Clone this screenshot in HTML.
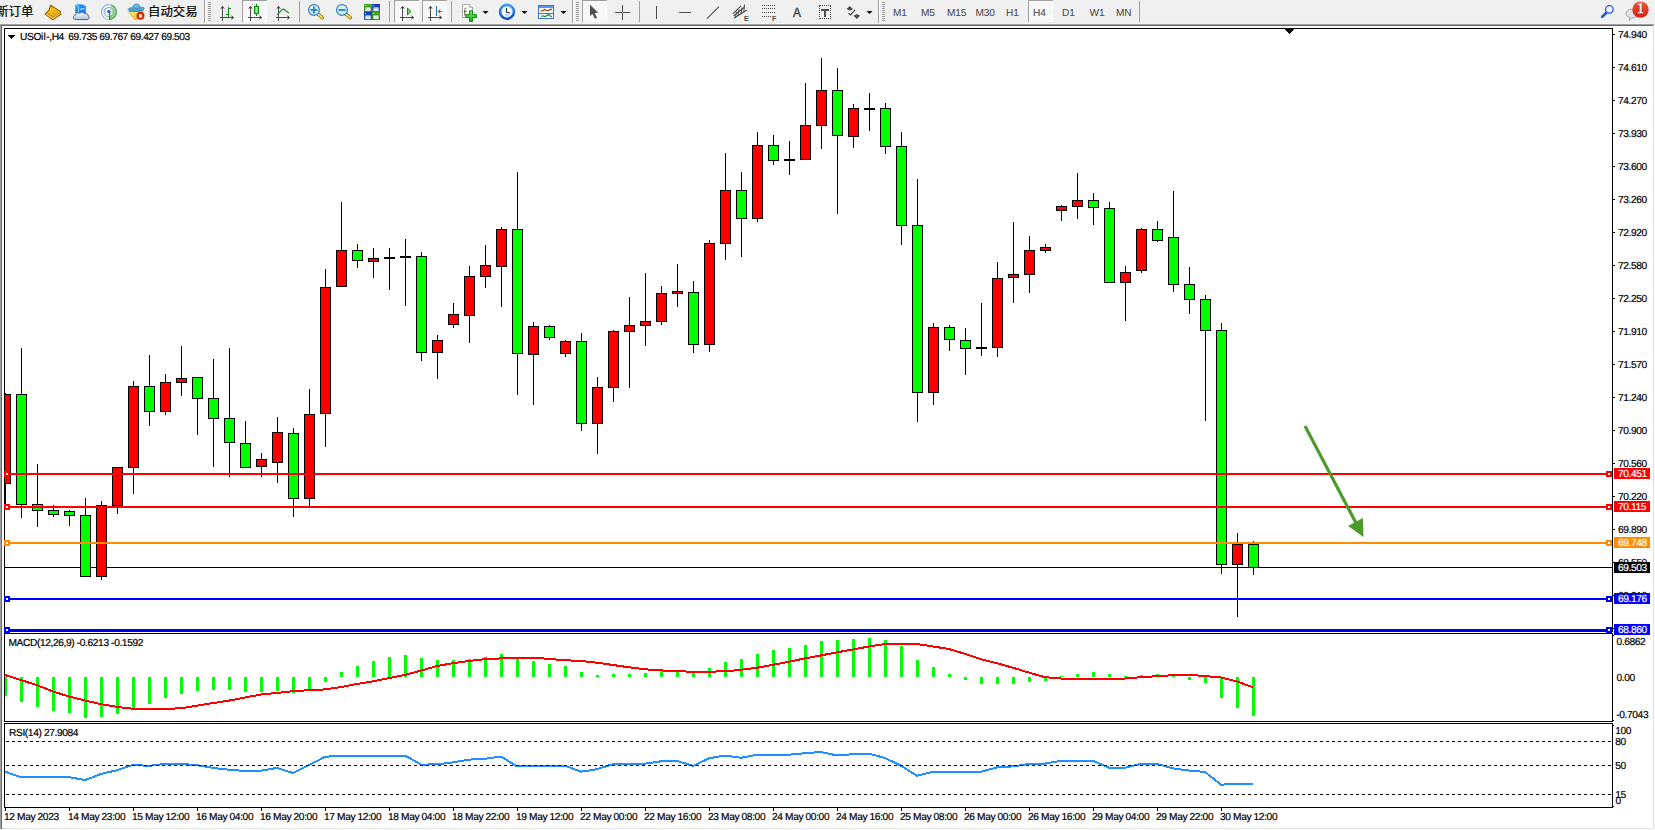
<!DOCTYPE html>
<html><head><meta charset="utf-8"><title>USOil H4</title>
<style>
html,body{margin:0;padding:0;background:#fff;}
body{width:1655px;height:830px;position:relative;overflow:hidden;font-family:"Liberation Sans","Noto Sans CJK SC",sans-serif;}
svg{position:absolute;left:0;top:0;}
.t{position:absolute;font-size:10.2px;letter-spacing:-0.38px;line-height:11px;height:11px;color:#000;white-space:nowrap;-webkit-text-stroke:0.2px currentColor;text-rendering:geometricPrecision;}
.c{position:absolute;font-size:12px;line-height:14px;color:#000;white-space:nowrap;}
.i{position:absolute;line-height:14px;color:#4d4d4d;white-space:nowrap;}
.b1{position:absolute;font-family:'Liberation Serif',serif;font-weight:normal;font-size:14px;line-height:14px;color:#fff;-webkit-text-stroke:0.3px #fff;}
.p{position:absolute;font-size:10.1px;letter-spacing:-0.1px;line-height:13px;color:#484848;-webkit-text-stroke:0.05px #484848;text-rendering:geometricPrecision;white-space:nowrap;}
</style></head><body>
<svg width="1655" height="830" viewBox="0 0 1655 830" shape-rendering="crispEdges"><defs><clipPath id="cm"><rect x="5" y="29" width="1607" height="602"/></clipPath><clipPath id="cm2"><rect x="5" y="634" width="1607" height="87"/></clipPath><clipPath id="cm3"><rect x="5" y="724" width="1607" height="83"/></clipPath></defs>
<rect x="0" y="0" width="1655" height="24" fill="#f0f0f0"/>
<rect x="0" y="24" width="1654" height="1" fill="#a0a0a0"/>
<rect x="0" y="25" width="1653" height="1" fill="#696969"/>
<rect x="0" y="24" width="1" height="805" fill="#a0a0a0"/>
<rect x="1" y="25" width="1" height="804" fill="#696969"/>
<rect x="1653" y="25" width="1" height="804" fill="#e3e3e3"/>
<rect x="1654" y="24" width="1" height="2" fill="#f0f0f0"/>
<rect x="2" y="828" width="1652" height="1" fill="#e3e3e3"/>
<rect x="0" y="829" width="1655" height="1" fill="#ffffff"/>
<rect x="4" y="28" width="1609" height="1" fill="#000"/>
<rect x="4" y="28" width="1" height="604" fill="#000"/>
<rect x="1612" y="28" width="1" height="604" fill="#000"/>
<rect x="4" y="631" width="1609" height="1" fill="#000"/>
<rect x="4" y="633" width="1609" height="1" fill="#000"/>
<rect x="4" y="633" width="1" height="89" fill="#000"/>
<rect x="1612" y="633" width="1" height="89" fill="#000"/>
<rect x="4" y="721" width="1609" height="1" fill="#000"/>
<rect x="4" y="723" width="1609" height="1" fill="#000"/>
<rect x="4" y="723" width="1" height="85" fill="#000"/>
<rect x="1612" y="723" width="1" height="85" fill="#000"/>
<rect x="4" y="807" width="1609" height="1" fill="#000"/>
<rect x="1613" y="34" width="2" height="1" fill="#000"/>
<rect x="1613" y="67" width="2" height="1" fill="#000"/>
<rect x="1613" y="100" width="2" height="1" fill="#000"/>
<rect x="1613" y="133" width="2" height="1" fill="#000"/>
<rect x="1613" y="166" width="2" height="1" fill="#000"/>
<rect x="1613" y="199" width="2" height="1" fill="#000"/>
<rect x="1613" y="232" width="2" height="1" fill="#000"/>
<rect x="1613" y="265" width="2" height="1" fill="#000"/>
<rect x="1613" y="298" width="2" height="1" fill="#000"/>
<rect x="1613" y="331" width="2" height="1" fill="#000"/>
<rect x="1613" y="364" width="2" height="1" fill="#000"/>
<rect x="1613" y="397" width="2" height="1" fill="#000"/>
<rect x="1613" y="430" width="2" height="1" fill="#000"/>
<rect x="1613" y="463" width="2" height="1" fill="#000"/>
<rect x="1613" y="496" width="2" height="1" fill="#000"/>
<rect x="1613" y="529" width="2" height="1" fill="#000"/>
<rect x="1613" y="562" width="2" height="1" fill="#000"/>
<rect x="1613" y="595" width="2" height="1" fill="#000"/>
<rect x="1613" y="628" width="2" height="1" fill="#000"/>
<rect x="1613" y="635" width="1" height="1" fill="#000"/>
<rect x="1613" y="720" width="1" height="1" fill="#000"/>
<rect x="1613" y="725" width="1" height="1" fill="#000"/>
<rect x="1613" y="806" width="1" height="1" fill="#000"/>
<rect x="5" y="808" width="1" height="3" fill="#000"/>
<rect x="69" y="808" width="1" height="3" fill="#000"/>
<rect x="133" y="808" width="1" height="3" fill="#000"/>
<rect x="197" y="808" width="1" height="3" fill="#000"/>
<rect x="261" y="808" width="1" height="3" fill="#000"/>
<rect x="325" y="808" width="1" height="3" fill="#000"/>
<rect x="389" y="808" width="1" height="3" fill="#000"/>
<rect x="453" y="808" width="1" height="3" fill="#000"/>
<rect x="517" y="808" width="1" height="3" fill="#000"/>
<rect x="581" y="808" width="1" height="3" fill="#000"/>
<rect x="645" y="808" width="1" height="3" fill="#000"/>
<rect x="709" y="808" width="1" height="3" fill="#000"/>
<rect x="773" y="808" width="1" height="3" fill="#000"/>
<rect x="837" y="808" width="1" height="3" fill="#000"/>
<rect x="901" y="808" width="1" height="3" fill="#000"/>
<rect x="965" y="808" width="1" height="3" fill="#000"/>
<rect x="1029" y="808" width="1" height="3" fill="#000"/>
<rect x="1093" y="808" width="1" height="3" fill="#000"/>
<rect x="1157" y="808" width="1" height="3" fill="#000"/>
<rect x="1221" y="808" width="1" height="3" fill="#000"/>
<rect x="8" y="35" width="7" height="1" fill="#000"/>
<rect x="9" y="36" width="5" height="1" fill="#000"/>
<rect x="10" y="37" width="3" height="1" fill="#000"/>
<rect x="11" y="38" width="1" height="1" fill="#000"/>
<rect x="1285" y="29" width="9" height="1" fill="#000"/>
<rect x="1286" y="30" width="7" height="1" fill="#000"/>
<rect x="1287" y="31" width="5" height="1" fill="#000"/>
<rect x="1288" y="32" width="3" height="1" fill="#000"/>
<rect x="1289" y="33" width="1" height="1" fill="#000"/>
<rect x="5" y="567" width="1607" height="1" fill="#000"/>
<g clip-path="url(#cm)"><rect x="5" y="393" width="1" height="114" fill="#000"/><rect x="0" y="394" width="11" height="90" fill="#000"/><rect x="1" y="395" width="9" height="88" fill="#ff0000"/><rect x="21" y="348" width="1" height="170" fill="#000"/><rect x="16" y="394" width="11" height="111" fill="#000"/><rect x="17" y="395" width="9" height="109" fill="#00ff00"/><rect x="37" y="464" width="1" height="63" fill="#000"/><rect x="32" y="504" width="11" height="7" fill="#000"/><rect x="33" y="505" width="9" height="5" fill="#00ff00"/><rect x="53" y="505" width="1" height="12" fill="#000"/><rect x="48" y="510" width="11" height="5" fill="#000"/><rect x="49" y="511" width="9" height="3" fill="#00ff00"/><rect x="69" y="510" width="1" height="16" fill="#000"/><rect x="64" y="511" width="11" height="5" fill="#000"/><rect x="65" y="512" width="9" height="3" fill="#00ff00"/><rect x="85" y="498" width="1" height="79" fill="#000"/><rect x="80" y="515" width="11" height="62" fill="#000"/><rect x="81" y="516" width="9" height="60" fill="#00ff00"/><rect x="101" y="501" width="1" height="79" fill="#000"/><rect x="96" y="505" width="11" height="72" fill="#000"/><rect x="97" y="506" width="9" height="70" fill="#ff0000"/><rect x="117" y="467" width="1" height="47" fill="#000"/><rect x="112" y="467" width="11" height="39" fill="#000"/><rect x="113" y="468" width="9" height="37" fill="#ff0000"/><rect x="133" y="381" width="1" height="113" fill="#000"/><rect x="128" y="386" width="11" height="82" fill="#000"/><rect x="129" y="387" width="9" height="80" fill="#ff0000"/><rect x="149" y="355" width="1" height="71" fill="#000"/><rect x="144" y="386" width="11" height="26" fill="#000"/><rect x="145" y="387" width="9" height="24" fill="#00ff00"/><rect x="165" y="374" width="1" height="41" fill="#000"/><rect x="160" y="382" width="11" height="30" fill="#000"/><rect x="161" y="383" width="9" height="28" fill="#ff0000"/><rect x="181" y="346" width="1" height="50" fill="#000"/><rect x="176" y="378" width="11" height="5" fill="#000"/><rect x="177" y="379" width="9" height="3" fill="#ff0000"/><rect x="197" y="377" width="1" height="58" fill="#000"/><rect x="192" y="377" width="11" height="22" fill="#000"/><rect x="193" y="378" width="9" height="20" fill="#00ff00"/><rect x="213" y="359" width="1" height="108" fill="#000"/><rect x="208" y="398" width="11" height="21" fill="#000"/><rect x="209" y="399" width="9" height="19" fill="#00ff00"/><rect x="229" y="348" width="1" height="129" fill="#000"/><rect x="224" y="418" width="11" height="25" fill="#000"/><rect x="225" y="419" width="9" height="23" fill="#00ff00"/><rect x="245" y="421" width="1" height="47" fill="#000"/><rect x="240" y="443" width="11" height="25" fill="#000"/><rect x="241" y="444" width="9" height="23" fill="#00ff00"/><rect x="261" y="453" width="1" height="24" fill="#000"/><rect x="256" y="459" width="11" height="8" fill="#000"/><rect x="257" y="460" width="9" height="6" fill="#ff0000"/><rect x="277" y="417" width="1" height="66" fill="#000"/><rect x="272" y="432" width="11" height="31" fill="#000"/><rect x="273" y="433" width="9" height="29" fill="#ff0000"/><rect x="293" y="428" width="1" height="89" fill="#000"/><rect x="288" y="433" width="11" height="66" fill="#000"/><rect x="289" y="434" width="9" height="64" fill="#00ff00"/><rect x="309" y="389" width="1" height="117" fill="#000"/><rect x="304" y="414" width="11" height="85" fill="#000"/><rect x="305" y="415" width="9" height="83" fill="#ff0000"/><rect x="325" y="269" width="1" height="178" fill="#000"/><rect x="320" y="287" width="11" height="127" fill="#000"/><rect x="321" y="288" width="9" height="125" fill="#ff0000"/><rect x="341" y="202" width="1" height="85" fill="#000"/><rect x="336" y="250" width="11" height="37" fill="#000"/><rect x="337" y="251" width="9" height="35" fill="#ff0000"/><rect x="357" y="244" width="1" height="24" fill="#000"/><rect x="352" y="250" width="11" height="11" fill="#000"/><rect x="353" y="251" width="9" height="9" fill="#00ff00"/><rect x="373" y="248" width="1" height="30" fill="#000"/><rect x="368" y="258" width="11" height="4" fill="#000"/><rect x="369" y="259" width="9" height="2" fill="#ff0000"/><rect x="389" y="248" width="1" height="42" fill="#000"/><rect x="384" y="257" width="11" height="2" fill="#000"/><rect x="405" y="239" width="1" height="67" fill="#000"/><rect x="400" y="256" width="11" height="2" fill="#000"/><rect x="421" y="252" width="1" height="109" fill="#000"/><rect x="416" y="256" width="11" height="97" fill="#000"/><rect x="417" y="257" width="9" height="95" fill="#00ff00"/><rect x="437" y="335" width="1" height="44" fill="#000"/><rect x="432" y="340" width="11" height="13" fill="#000"/><rect x="433" y="341" width="9" height="11" fill="#ff0000"/><rect x="453" y="303" width="1" height="25" fill="#000"/><rect x="448" y="314" width="11" height="11" fill="#000"/><rect x="449" y="315" width="9" height="9" fill="#ff0000"/><rect x="469" y="266" width="1" height="77" fill="#000"/><rect x="464" y="276" width="11" height="40" fill="#000"/><rect x="465" y="277" width="9" height="38" fill="#ff0000"/><rect x="485" y="245" width="1" height="43" fill="#000"/><rect x="480" y="265" width="11" height="12" fill="#000"/><rect x="481" y="266" width="9" height="10" fill="#ff0000"/><rect x="501" y="227" width="1" height="80" fill="#000"/><rect x="496" y="229" width="11" height="38" fill="#000"/><rect x="497" y="230" width="9" height="36" fill="#ff0000"/><rect x="517" y="172" width="1" height="223" fill="#000"/><rect x="512" y="229" width="11" height="125" fill="#000"/><rect x="513" y="230" width="9" height="123" fill="#00ff00"/><rect x="533" y="322" width="1" height="83" fill="#000"/><rect x="528" y="326" width="11" height="29" fill="#000"/><rect x="529" y="327" width="9" height="27" fill="#ff0000"/><rect x="549" y="325" width="1" height="15" fill="#000"/><rect x="544" y="326" width="11" height="12" fill="#000"/><rect x="545" y="327" width="9" height="10" fill="#00ff00"/><rect x="565" y="340" width="1" height="17" fill="#000"/><rect x="560" y="341" width="11" height="13" fill="#000"/><rect x="561" y="342" width="9" height="11" fill="#ff0000"/><rect x="581" y="333" width="1" height="98" fill="#000"/><rect x="576" y="341" width="11" height="83" fill="#000"/><rect x="577" y="342" width="9" height="81" fill="#00ff00"/><rect x="597" y="377" width="1" height="77" fill="#000"/><rect x="592" y="387" width="11" height="37" fill="#000"/><rect x="593" y="388" width="9" height="35" fill="#ff0000"/><rect x="613" y="330" width="1" height="72" fill="#000"/><rect x="608" y="331" width="11" height="57" fill="#000"/><rect x="609" y="332" width="9" height="55" fill="#ff0000"/><rect x="629" y="297" width="1" height="91" fill="#000"/><rect x="624" y="325" width="11" height="7" fill="#000"/><rect x="625" y="326" width="9" height="5" fill="#ff0000"/><rect x="645" y="273" width="1" height="73" fill="#000"/><rect x="640" y="321" width="11" height="5" fill="#000"/><rect x="641" y="322" width="9" height="3" fill="#ff0000"/><rect x="661" y="286" width="1" height="39" fill="#000"/><rect x="656" y="293" width="11" height="29" fill="#000"/><rect x="657" y="294" width="9" height="27" fill="#ff0000"/><rect x="677" y="264" width="1" height="43" fill="#000"/><rect x="672" y="291" width="11" height="3" fill="#000"/><rect x="673" y="292" width="9" height="1" fill="#ff0000"/><rect x="693" y="281" width="1" height="72" fill="#000"/><rect x="688" y="292" width="11" height="53" fill="#000"/><rect x="689" y="293" width="9" height="51" fill="#00ff00"/><rect x="709" y="240" width="1" height="112" fill="#000"/><rect x="704" y="243" width="11" height="102" fill="#000"/><rect x="705" y="244" width="9" height="100" fill="#ff0000"/><rect x="725" y="153" width="1" height="107" fill="#000"/><rect x="720" y="190" width="11" height="54" fill="#000"/><rect x="721" y="191" width="9" height="52" fill="#ff0000"/><rect x="741" y="172" width="1" height="85" fill="#000"/><rect x="736" y="190" width="11" height="29" fill="#000"/><rect x="737" y="191" width="9" height="27" fill="#00ff00"/><rect x="757" y="132" width="1" height="90" fill="#000"/><rect x="752" y="145" width="11" height="74" fill="#000"/><rect x="753" y="146" width="9" height="72" fill="#ff0000"/><rect x="773" y="135" width="1" height="30" fill="#000"/><rect x="768" y="145" width="11" height="16" fill="#000"/><rect x="769" y="146" width="9" height="14" fill="#00ff00"/><rect x="789" y="141" width="1" height="34" fill="#000"/><rect x="784" y="159" width="11" height="2" fill="#000"/><rect x="805" y="83" width="1" height="77" fill="#000"/><rect x="800" y="125" width="11" height="35" fill="#000"/><rect x="801" y="126" width="9" height="33" fill="#ff0000"/><rect x="821" y="58" width="1" height="91" fill="#000"/><rect x="816" y="90" width="11" height="36" fill="#000"/><rect x="817" y="91" width="9" height="34" fill="#ff0000"/><rect x="837" y="68" width="1" height="146" fill="#000"/><rect x="832" y="90" width="11" height="46" fill="#000"/><rect x="833" y="91" width="9" height="44" fill="#00ff00"/><rect x="853" y="104" width="1" height="44" fill="#000"/><rect x="848" y="108" width="11" height="29" fill="#000"/><rect x="849" y="109" width="9" height="27" fill="#ff0000"/><rect x="869" y="93" width="1" height="38" fill="#000"/><rect x="864" y="108" width="11" height="2" fill="#000"/><rect x="885" y="103" width="1" height="51" fill="#000"/><rect x="880" y="108" width="11" height="39" fill="#000"/><rect x="881" y="109" width="9" height="37" fill="#00ff00"/><rect x="901" y="132" width="1" height="113" fill="#000"/><rect x="896" y="146" width="11" height="80" fill="#000"/><rect x="897" y="147" width="9" height="78" fill="#00ff00"/><rect x="917" y="179" width="1" height="243" fill="#000"/><rect x="912" y="225" width="11" height="168" fill="#000"/><rect x="913" y="226" width="9" height="166" fill="#00ff00"/><rect x="933" y="323" width="1" height="82" fill="#000"/><rect x="928" y="327" width="11" height="66" fill="#000"/><rect x="929" y="328" width="9" height="64" fill="#ff0000"/><rect x="949" y="325" width="1" height="26" fill="#000"/><rect x="944" y="327" width="11" height="13" fill="#000"/><rect x="945" y="328" width="9" height="11" fill="#00ff00"/><rect x="965" y="328" width="1" height="47" fill="#000"/><rect x="960" y="340" width="11" height="9" fill="#000"/><rect x="961" y="341" width="9" height="7" fill="#00ff00"/><rect x="981" y="303" width="1" height="53" fill="#000"/><rect x="976" y="347" width="11" height="2" fill="#000"/><rect x="997" y="262" width="1" height="95" fill="#000"/><rect x="992" y="278" width="11" height="70" fill="#000"/><rect x="993" y="279" width="9" height="68" fill="#ff0000"/><rect x="1013" y="222" width="1" height="81" fill="#000"/><rect x="1008" y="274" width="11" height="4" fill="#000"/><rect x="1009" y="275" width="9" height="2" fill="#ff0000"/><rect x="1029" y="236" width="1" height="57" fill="#000"/><rect x="1024" y="250" width="11" height="25" fill="#000"/><rect x="1025" y="251" width="9" height="23" fill="#ff0000"/><rect x="1045" y="244" width="1" height="9" fill="#000"/><rect x="1040" y="247" width="11" height="4" fill="#000"/><rect x="1041" y="248" width="9" height="2" fill="#ff0000"/><rect x="1061" y="205" width="1" height="16" fill="#000"/><rect x="1056" y="206" width="11" height="5" fill="#000"/><rect x="1057" y="207" width="9" height="3" fill="#ff0000"/><rect x="1077" y="173" width="1" height="46" fill="#000"/><rect x="1072" y="200" width="11" height="7" fill="#000"/><rect x="1073" y="201" width="9" height="5" fill="#ff0000"/><rect x="1093" y="193" width="1" height="32" fill="#000"/><rect x="1088" y="200" width="11" height="8" fill="#000"/><rect x="1089" y="201" width="9" height="6" fill="#00ff00"/><rect x="1109" y="202" width="1" height="81" fill="#000"/><rect x="1104" y="208" width="11" height="75" fill="#000"/><rect x="1105" y="209" width="9" height="73" fill="#00ff00"/><rect x="1125" y="266" width="1" height="55" fill="#000"/><rect x="1120" y="272" width="11" height="11" fill="#000"/><rect x="1121" y="273" width="9" height="9" fill="#ff0000"/><rect x="1141" y="228" width="1" height="45" fill="#000"/><rect x="1136" y="229" width="11" height="42" fill="#000"/><rect x="1137" y="230" width="9" height="40" fill="#ff0000"/><rect x="1157" y="221" width="1" height="21" fill="#000"/><rect x="1152" y="229" width="11" height="12" fill="#000"/><rect x="1153" y="230" width="9" height="10" fill="#00ff00"/><rect x="1173" y="191" width="1" height="101" fill="#000"/><rect x="1168" y="237" width="11" height="48" fill="#000"/><rect x="1169" y="238" width="9" height="46" fill="#00ff00"/><rect x="1189" y="267" width="1" height="47" fill="#000"/><rect x="1184" y="284" width="11" height="16" fill="#000"/><rect x="1185" y="285" width="9" height="14" fill="#00ff00"/><rect x="1205" y="295" width="1" height="126" fill="#000"/><rect x="1200" y="299" width="11" height="32" fill="#000"/><rect x="1201" y="300" width="9" height="30" fill="#00ff00"/><rect x="1221" y="323" width="1" height="251" fill="#000"/><rect x="1216" y="330" width="11" height="235" fill="#000"/><rect x="1217" y="331" width="9" height="233" fill="#00ff00"/><rect x="1237" y="533" width="1" height="84" fill="#000"/><rect x="1232" y="544" width="11" height="21" fill="#000"/><rect x="1233" y="545" width="9" height="19" fill="#ff0000"/><rect x="1253" y="541" width="1" height="34" fill="#000"/><rect x="1248" y="544" width="11" height="24" fill="#000"/><rect x="1249" y="545" width="9" height="22" fill="#00ff00"/></g>
<rect x="5" y="473" width="1607" height="2" fill="#ff0000"/><rect x="4" y="471" width="6" height="6" fill="#ff0000"/><rect x="6" y="473" width="2" height="2" fill="#fff"/><rect x="1606" y="471" width="6" height="6" fill="#ff0000"/><rect x="1608" y="473" width="2" height="2" fill="#fff"/>
<rect x="5" y="506" width="1607" height="2" fill="#ff0000"/><rect x="4" y="504" width="6" height="6" fill="#ff0000"/><rect x="6" y="506" width="2" height="2" fill="#fff"/><rect x="1606" y="504" width="6" height="6" fill="#ff0000"/><rect x="1608" y="506" width="2" height="2" fill="#fff"/>
<rect x="5" y="542" width="1607" height="2" fill="#ff8c00"/><rect x="4" y="540" width="6" height="6" fill="#ff8c00"/><rect x="6" y="542" width="2" height="2" fill="#fff"/><rect x="1606" y="540" width="6" height="6" fill="#ff8c00"/><rect x="1608" y="542" width="2" height="2" fill="#fff"/>
<rect x="5" y="598" width="1607" height="2" fill="#0000ff"/><rect x="4" y="596" width="6" height="6" fill="#0000ff"/><rect x="6" y="598" width="2" height="2" fill="#fff"/><rect x="1606" y="596" width="6" height="6" fill="#0000ff"/><rect x="1608" y="598" width="2" height="2" fill="#fff"/>
<rect x="5" y="629" width="1607" height="2" fill="#0000ff"/><rect x="4" y="627" width="6" height="6" fill="#0000ff"/><rect x="6" y="629" width="2" height="2" fill="#fff"/><rect x="1606" y="627" width="6" height="6" fill="#0000ff"/><rect x="1608" y="629" width="2" height="2" fill="#fff"/>
<g shape-rendering="auto"><path d="M1305,426 L1356,523" stroke="#4e9a2c" stroke-width="3.2" fill="none"/><path d="M1348,526 L1363,518 L1363.5,537 Z" fill="#4e9a2c"/></g>
<rect x="1614" y="468" width="36" height="11" fill="#ff0000"/>
<rect x="1614" y="501" width="36" height="11" fill="#ff0000"/>
<rect x="1614" y="537" width="36" height="11" fill="#ff8c00"/>
<rect x="1614" y="562" width="36" height="11" fill="#000"/>
<rect x="1614" y="593" width="36" height="11" fill="#0000ff"/>
<rect x="1614" y="624" width="36" height="11" fill="#0000ff"/>
<g clip-path="url(#cm2)"><rect x="4" y="677" width="3" height="19" fill="#00ff00"/><rect x="20" y="677" width="3" height="25" fill="#00ff00"/><rect x="36" y="677" width="3" height="30" fill="#00ff00"/><rect x="52" y="677" width="3" height="34" fill="#00ff00"/><rect x="68" y="677" width="3" height="36" fill="#00ff00"/><rect x="84" y="677" width="3" height="41" fill="#00ff00"/><rect x="100" y="677" width="3" height="40" fill="#00ff00"/><rect x="116" y="677" width="3" height="37" fill="#00ff00"/><rect x="132" y="677" width="3" height="31" fill="#00ff00"/><rect x="148" y="677" width="3" height="27" fill="#00ff00"/><rect x="164" y="677" width="3" height="21" fill="#00ff00"/><rect x="180" y="677" width="3" height="17" fill="#00ff00"/><rect x="196" y="677" width="3" height="14" fill="#00ff00"/><rect x="212" y="677" width="3" height="13" fill="#00ff00"/><rect x="228" y="677" width="3" height="13" fill="#00ff00"/><rect x="244" y="677" width="3" height="15" fill="#00ff00"/><rect x="260" y="677" width="3" height="15" fill="#00ff00"/><rect x="276" y="677" width="3" height="14" fill="#00ff00"/><rect x="292" y="677" width="3" height="16" fill="#00ff00"/><rect x="308" y="677" width="3" height="14" fill="#00ff00"/><rect x="324" y="677" width="3" height="5" fill="#00ff00"/><rect x="340" y="672" width="3" height="5" fill="#00ff00"/><rect x="356" y="666" width="3" height="11" fill="#00ff00"/><rect x="372" y="661" width="3" height="16" fill="#00ff00"/><rect x="388" y="657" width="3" height="20" fill="#00ff00"/><rect x="404" y="655" width="3" height="22" fill="#00ff00"/><rect x="420" y="658" width="3" height="19" fill="#00ff00"/><rect x="436" y="660" width="3" height="17" fill="#00ff00"/><rect x="452" y="660" width="3" height="17" fill="#00ff00"/><rect x="468" y="659" width="3" height="18" fill="#00ff00"/><rect x="484" y="657" width="3" height="20" fill="#00ff00"/><rect x="500" y="654" width="3" height="23" fill="#00ff00"/><rect x="516" y="659" width="3" height="18" fill="#00ff00"/><rect x="532" y="661" width="3" height="16" fill="#00ff00"/><rect x="548" y="664" width="3" height="13" fill="#00ff00"/><rect x="564" y="666" width="3" height="11" fill="#00ff00"/><rect x="580" y="672" width="3" height="5" fill="#00ff00"/><rect x="596" y="675" width="3" height="2" fill="#00ff00"/><rect x="612" y="674" width="3" height="3" fill="#00ff00"/><rect x="628" y="674" width="3" height="3" fill="#00ff00"/><rect x="644" y="673" width="3" height="4" fill="#00ff00"/><rect x="660" y="670" width="3" height="7" fill="#00ff00"/><rect x="676" y="670" width="3" height="7" fill="#00ff00"/><rect x="692" y="672" width="3" height="5" fill="#00ff00"/><rect x="708" y="668" width="3" height="9" fill="#00ff00"/><rect x="724" y="662" width="3" height="15" fill="#00ff00"/><rect x="740" y="659" width="3" height="18" fill="#00ff00"/><rect x="756" y="654" width="3" height="23" fill="#00ff00"/><rect x="772" y="650" width="3" height="27" fill="#00ff00"/><rect x="788" y="648" width="3" height="29" fill="#00ff00"/><rect x="804" y="645" width="3" height="32" fill="#00ff00"/><rect x="820" y="641" width="3" height="36" fill="#00ff00"/><rect x="836" y="640" width="3" height="37" fill="#00ff00"/><rect x="852" y="639" width="3" height="38" fill="#00ff00"/><rect x="868" y="638" width="3" height="39" fill="#00ff00"/><rect x="884" y="640" width="3" height="37" fill="#00ff00"/><rect x="900" y="646" width="3" height="31" fill="#00ff00"/><rect x="916" y="660" width="3" height="17" fill="#00ff00"/><rect x="932" y="667" width="3" height="10" fill="#00ff00"/><rect x="948" y="674" width="3" height="3" fill="#00ff00"/><rect x="964" y="677" width="3" height="3" fill="#00ff00"/><rect x="980" y="677" width="3" height="7" fill="#00ff00"/><rect x="996" y="677" width="3" height="7" fill="#00ff00"/><rect x="1012" y="677" width="3" height="7" fill="#00ff00"/><rect x="1028" y="677" width="3" height="5" fill="#00ff00"/><rect x="1044" y="677" width="3" height="4" fill="#00ff00"/><rect x="1060" y="676" width="3" height="1" fill="#00ff00"/><rect x="1076" y="674" width="3" height="3" fill="#00ff00"/><rect x="1092" y="672" width="3" height="5" fill="#00ff00"/><rect x="1108" y="674" width="3" height="3" fill="#00ff00"/><rect x="1124" y="676" width="3" height="1" fill="#00ff00"/><rect x="1140" y="675" width="3" height="2" fill="#00ff00"/><rect x="1156" y="674" width="3" height="3" fill="#00ff00"/><rect x="1172" y="676" width="3" height="1" fill="#00ff00"/><rect x="1188" y="677" width="3" height="3" fill="#00ff00"/><rect x="1204" y="677" width="3" height="6" fill="#00ff00"/><rect x="1220" y="677" width="3" height="21" fill="#00ff00"/><rect x="1236" y="677" width="3" height="31" fill="#00ff00"/><rect x="1252" y="677" width="3" height="39" fill="#00ff00"/><polyline points="5,675.0 21,680.1 37,685.2 53,691.5 69,696.5 85,700.6 101,704.1 117,706.9 133,708.7 149,708.7 165,708.7 181,708.4 197,705.6 213,703.1 229,700.6 245,697.5 261,694.5 277,692.9 293,691.2 309,690.2 325,689.4 341,687.1 357,684.0 373,681.3 389,678.2 405,674.9 421,670.6 437,666.0 453,663.2 469,661.0 485,659.2 501,658.4 517,657.7 533,657.7 549,658.9 565,660.2 581,661.0 597,662.7 613,665.0 629,667.3 645,669.3 661,670.4 677,671.4 693,671.6 709,671.6 725,671.4 741,669.8 757,667.8 773,664.8 789,661.7 805,658.4 821,655.4 837,652.3 853,649.5 869,646.5 885,644.0 901,643.7 917,644.0 933,646.5 949,649.0 965,653.9 981,659.2 997,663.2 1013,667.8 1029,672.6 1045,677.2 1061,678.5 1077,678.5 1093,678.5 1109,678.5 1125,678.5 1141,677.2 1157,676.2 1173,675.2 1189,674.9 1205,676.0 1221,677.5 1237,681.5 1253,687.3" fill="none" stroke="#ff0000" stroke-width="2" shape-rendering="crispEdges"/></g>
<g clip-path="url(#cm3)"><polyline points="5,771.7 21,777.1 37,777.1 53,777.1 69,777.1 85,780.1 101,774.0 117,770.2 133,764.9 149,765.9 165,763.9 181,763.9 197,765.1 213,767.9 229,769.7 245,771.0 261,770.7 277,767.9 293,773.0 309,765.1 325,756.8 341,755.5 357,755.5 373,755.5 389,755.5 405,755.5 421,764.6 437,764.4 453,762.4 469,759.6 485,758.8 501,756.5 517,766.4 533,765.7 549,765.7 565,765.7 581,771.7 597,769.2 613,764.1 629,763.6 645,763.6 661,761.3 677,760.8 693,765.9 709,758.3 725,755.5 741,757.8 757,754.7 773,754.7 789,754.7 805,753.2 821,752.0 837,755.5 853,754.2 869,753.7 885,758.0 901,765.7 917,775.8 933,771.7 949,771.7 965,771.7 981,771.7 997,767.4 1013,766.4 1029,763.9 1045,763.6 1061,760.8 1077,760.8 1093,760.8 1109,767.7 1125,767.7 1141,763.9 1157,763.9 1173,768.4 1189,770.5 1205,772.0 1221,784.7 1237,783.7 1253,783.7" fill="none" stroke="#1e90ff" stroke-width="2" shape-rendering="crispEdges"/></g>
<path d="M6,741.5 H1612" stroke="#000" stroke-width="1" stroke-dasharray="3 3" fill="none"/>
<path d="M6,765.5 H1612" stroke="#000" stroke-width="1" stroke-dasharray="3 3" fill="none"/>
<path d="M6,794.5 H1612" stroke="#000" stroke-width="1" stroke-dasharray="3 3" fill="none"/>
<defs>
<pattern id="chk" width="2" height="2" patternUnits="userSpaceOnUse"><rect width="2" height="2" fill="#fff"/><rect width="1" height="1" fill="#f0f0f0"/><rect x="1" y="1" width="1" height="1" fill="#f0f0f0"/></pattern>
<linearGradient id="gold" x1="0" y1="0" x2="0.6" y2="1"><stop offset="0" stop-color="#f7d33a"/><stop offset="0.5" stop-color="#eeb912"/><stop offset="1" stop-color="#d9981a"/></linearGradient>
<linearGradient id="cloud" x1="0" y1="0" x2="0" y2="1"><stop offset="0" stop-color="#ffffff"/><stop offset="1" stop-color="#b4c2dc"/></linearGradient>
<linearGradient id="bluebox" x1="0" y1="0" x2="1" y2="1"><stop offset="0" stop-color="#2aa0ff"/><stop offset="1" stop-color="#0a78e8"/></linearGradient>
<linearGradient id="sig" x1="0" y1="0" x2="1" y2="0.6"><stop offset="0" stop-color="#3a6ad8"/><stop offset="0.55" stop-color="#7ab0c0"/><stop offset="1" stop-color="#38a838"/></linearGradient>
<radialGradient id="sigf" gradientUnits="userSpaceOnUse" cx="109" cy="12" r="8"><stop offset="0" stop-color="#d8ecd8" stop-opacity="0.5"/><stop offset="0.6" stop-color="#a8d0a8" stop-opacity="0.8"/><stop offset="1" stop-color="#3aa03a" stop-opacity="0.95"/></radialGradient>
<linearGradient id="hat" x1="0" y1="0" x2="0" y2="1"><stop offset="0" stop-color="#7cc4ec"/><stop offset="1" stop-color="#3a96c8"/></linearGradient>
<linearGradient id="yel" x1="0" y1="0" x2="1" y2="1"><stop offset="0" stop-color="#fff07a"/><stop offset="1" stop-color="#e8b818"/></linearGradient>
<linearGradient id="redb" x1="0" y1="0" x2="0" y2="1"><stop offset="0" stop-color="#e85a3c"/><stop offset="1" stop-color="#d81c0c"/></linearGradient>
<linearGradient id="lens" x1="0" y1="0" x2="0" y2="1"><stop offset="0" stop-color="#eafaff"/><stop offset="1" stop-color="#bfe8f6"/></linearGradient>
<linearGradient id="gplus" x1="0" y1="0" x2="0" y2="1"><stop offset="0" stop-color="#6ff06f"/><stop offset="1" stop-color="#10b010"/></linearGradient>
<linearGradient id="clk" x1="0" y1="0" x2="0" y2="1"><stop offset="0" stop-color="#3a9af8"/><stop offset="1" stop-color="#0a48c0"/></linearGradient>
<linearGradient id="gq" x1="0" y1="0" x2="0" y2="1"><stop offset="0" stop-color="#4aa828"/><stop offset="1" stop-color="#2e8a18"/></linearGradient>
<linearGradient id="bq" x1="0" y1="0" x2="0" y2="1"><stop offset="0" stop-color="#1438a8"/><stop offset="1" stop-color="#2a6ae0"/></linearGradient>
<linearGradient id="cnd" x1="0" y1="0" x2="1" y2="0"><stop offset="0" stop-color="#20d040"/><stop offset="0.5" stop-color="#90ffa0"/><stop offset="1" stop-color="#20d040"/></linearGradient>
</defs>
<rect x="0" y="23" width="1655" height="1" fill="#f6f6f6"/>
<rect x="204" y="0" width="1" height="23" fill="#a0a0a0"/>
<rect x="205" y="0" width="1" height="23" fill="#ffffff"/>
<rect x="208" y="2" width="3" height="1" fill="#a0a0a0"/>
<rect x="208" y="4" width="3" height="1" fill="#a0a0a0"/>
<rect x="208" y="6" width="3" height="1" fill="#a0a0a0"/>
<rect x="208" y="8" width="3" height="1" fill="#a0a0a0"/>
<rect x="208" y="10" width="3" height="1" fill="#a0a0a0"/>
<rect x="208" y="12" width="3" height="1" fill="#a0a0a0"/>
<rect x="208" y="14" width="3" height="1" fill="#a0a0a0"/>
<rect x="208" y="16" width="3" height="1" fill="#a0a0a0"/>
<rect x="208" y="18" width="3" height="1" fill="#a0a0a0"/>
<rect x="208" y="20" width="3" height="1" fill="#a0a0a0"/>
<rect x="572" y="0" width="1" height="23" fill="#a0a0a0"/>
<rect x="573" y="0" width="1" height="23" fill="#ffffff"/>
<rect x="576" y="2" width="3" height="1" fill="#a0a0a0"/>
<rect x="576" y="4" width="3" height="1" fill="#a0a0a0"/>
<rect x="576" y="6" width="3" height="1" fill="#a0a0a0"/>
<rect x="576" y="8" width="3" height="1" fill="#a0a0a0"/>
<rect x="576" y="10" width="3" height="1" fill="#a0a0a0"/>
<rect x="576" y="12" width="3" height="1" fill="#a0a0a0"/>
<rect x="576" y="14" width="3" height="1" fill="#a0a0a0"/>
<rect x="576" y="16" width="3" height="1" fill="#a0a0a0"/>
<rect x="576" y="18" width="3" height="1" fill="#a0a0a0"/>
<rect x="576" y="20" width="3" height="1" fill="#a0a0a0"/>
<rect x="878" y="0" width="1" height="23" fill="#a0a0a0"/>
<rect x="879" y="0" width="1" height="23" fill="#ffffff"/>
<rect x="882" y="2" width="3" height="1" fill="#a0a0a0"/>
<rect x="882" y="4" width="3" height="1" fill="#a0a0a0"/>
<rect x="882" y="6" width="3" height="1" fill="#a0a0a0"/>
<rect x="882" y="8" width="3" height="1" fill="#a0a0a0"/>
<rect x="882" y="10" width="3" height="1" fill="#a0a0a0"/>
<rect x="882" y="12" width="3" height="1" fill="#a0a0a0"/>
<rect x="882" y="14" width="3" height="1" fill="#a0a0a0"/>
<rect x="882" y="16" width="3" height="1" fill="#a0a0a0"/>
<rect x="882" y="18" width="3" height="1" fill="#a0a0a0"/>
<rect x="882" y="20" width="3" height="1" fill="#a0a0a0"/>
<rect x="299" y="1" width="1" height="21" fill="#a0a0a0"/>
<rect x="389" y="1" width="1" height="21" fill="#a0a0a0"/>
<rect x="451" y="1" width="1" height="21" fill="#a0a0a0"/>
<rect x="639" y="1" width="1" height="21" fill="#a0a0a0"/>
<rect x="1139" y="1" width="1" height="21" fill="#a0a0a0"/>
<rect x="242" y="0" width="25" height="22" fill="url(#chk)"/>
<rect x="242" y="0" width="25" height="1" fill="#a0a0a0"/>
<rect x="242" y="0" width="1" height="22" fill="#a0a0a0"/>
<rect x="243" y="21" width="24" height="1" fill="#ffffff"/>
<rect x="266" y="1" width="1" height="21" fill="#ffffff"/>
<rect x="394" y="0" width="25" height="22" fill="url(#chk)"/>
<rect x="394" y="0" width="25" height="1" fill="#a0a0a0"/>
<rect x="394" y="0" width="1" height="22" fill="#a0a0a0"/>
<rect x="395" y="21" width="24" height="1" fill="#ffffff"/>
<rect x="418" y="1" width="1" height="21" fill="#ffffff"/>
<rect x="422" y="0" width="25" height="22" fill="url(#chk)"/>
<rect x="422" y="0" width="25" height="1" fill="#a0a0a0"/>
<rect x="422" y="0" width="1" height="22" fill="#a0a0a0"/>
<rect x="423" y="21" width="24" height="1" fill="#ffffff"/>
<rect x="446" y="1" width="1" height="21" fill="#ffffff"/>
<rect x="582" y="0" width="25" height="22" fill="url(#chk)"/>
<rect x="582" y="0" width="25" height="1" fill="#a0a0a0"/>
<rect x="582" y="0" width="1" height="22" fill="#a0a0a0"/>
<rect x="583" y="21" width="24" height="1" fill="#ffffff"/>
<rect x="606" y="1" width="1" height="21" fill="#ffffff"/>
<rect x="1028" y="0" width="25" height="22" fill="url(#chk)"/>
<rect x="1028" y="0" width="25" height="1" fill="#a0a0a0"/>
<rect x="1028" y="0" width="1" height="22" fill="#a0a0a0"/>
<rect x="1029" y="21" width="24" height="1" fill="#ffffff"/>
<rect x="1052" y="1" width="1" height="21" fill="#ffffff"/>
<rect x="222" y="6" width="1" height="15" fill="#4d4d4d"/><rect x="220" y="17" width="14" height="1" fill="#4d4d4d"/><rect x="221" y="7" width="3" height="1" fill="#4d4d4d"/><rect x="220" y="8" width="5" height="1" fill="#4d4d4d" opacity="0.35"/><rect x="232" y="16" width="1" height="3" fill="#4d4d4d"/><rect x="231" y="15" width="1" height="5" fill="#4d4d4d" opacity="0.35"/>
<rect x="228" y="7" width="1" height="10" fill="#0a8a0a"/><rect x="226" y="14" width="2" height="1" fill="#0a8a0a"/><rect x="229" y="8" width="2" height="1" fill="#0a8a0a"/>
<rect x="250" y="6" width="1" height="15" fill="#4d4d4d"/><rect x="248" y="17" width="14" height="1" fill="#4d4d4d"/><rect x="249" y="7" width="3" height="1" fill="#4d4d4d"/><rect x="248" y="8" width="5" height="1" fill="#4d4d4d" opacity="0.35"/><rect x="260" y="16" width="1" height="3" fill="#4d4d4d"/><rect x="259" y="15" width="1" height="5" fill="#4d4d4d" opacity="0.35"/>
<rect x="256" y="4" width="1" height="12" fill="#0a8a0a"/><rect x="254.5" y="6.5" width="4" height="7" fill="url(#cnd)" stroke="#0a8a0a" stroke-width="1" shape-rendering="geometricPrecision"/>
<rect x="278" y="6" width="1" height="15" fill="#4d4d4d"/><rect x="276" y="17" width="14" height="1" fill="#4d4d4d"/><rect x="277" y="7" width="3" height="1" fill="#4d4d4d"/><rect x="276" y="8" width="5" height="1" fill="#4d4d4d" opacity="0.35"/><rect x="288" y="16" width="1" height="3" fill="#4d4d4d"/><rect x="287" y="15" width="1" height="5" fill="#4d4d4d" opacity="0.35"/>
<path d="M277,14.8 C280,12.5 281.5,9.2 283.2,9.2 C285,9.2 286.5,12 289,13" fill="none" stroke="#1a8a1a" stroke-width="1.2" shape-rendering="geometricPrecision"/>
<path d="M317.4,13.6 L322.3,17.7" stroke="#9a7a10" stroke-width="3.6" stroke-linecap="round" shape-rendering="geometricPrecision"/><path d="M317.8,14 L322.1,17.6" stroke="#f0dc50" stroke-width="2" stroke-linecap="round" shape-rendering="geometricPrecision"/><circle cx="314" cy="10" r="5.4" fill="url(#lens)" stroke="#2f7cc8" stroke-width="1.2" shape-rendering="geometricPrecision"/><rect x="310.5" y="9" width="7" height="2" fill="#3a8ab8" shape-rendering="geometricPrecision"/><rect x="313" y="6.5" width="2" height="7" fill="#3a8ab8" shape-rendering="geometricPrecision"/>
<path d="M345.4,13.6 L350.3,17.7" stroke="#9a7a10" stroke-width="3.6" stroke-linecap="round" shape-rendering="geometricPrecision"/><path d="M345.8,14 L350.1,17.6" stroke="#f0dc50" stroke-width="2" stroke-linecap="round" shape-rendering="geometricPrecision"/><circle cx="342" cy="10" r="5.4" fill="url(#lens)" stroke="#2f7cc8" stroke-width="1.2" shape-rendering="geometricPrecision"/><rect x="338.5" y="9" width="7" height="2" fill="#3a8ab8" shape-rendering="geometricPrecision"/>
<rect x="364" y="4" width="8" height="8" fill="url(#gq)"/><rect x="365.5" y="7.5" width="5" height="3.5" fill="#ffffff" shape-rendering="geometricPrecision"/><rect x="366.5" y="8.5" width="3" height="1" fill="url(#gq)" opacity="0.45" shape-rendering="geometricPrecision"/><rect x="365" y="5" width="1" height="1" fill="#cfe0ff"/><rect x="372" y="4" width="8" height="8" fill="url(#bq)"/><rect x="373.5" y="7.5" width="5" height="3.5" fill="#ffffff" shape-rendering="geometricPrecision"/><rect x="374.5" y="8.5" width="3" height="1" fill="url(#bq)" opacity="0.45" shape-rendering="geometricPrecision"/><rect x="373" y="5" width="1" height="1" fill="#cfe0ff"/><rect x="364" y="12" width="8" height="8" fill="url(#bq)"/><rect x="365.5" y="15.5" width="5" height="3.5" fill="#ffffff" shape-rendering="geometricPrecision"/><rect x="366.5" y="16.5" width="3" height="1" fill="url(#bq)" opacity="0.45" shape-rendering="geometricPrecision"/><rect x="365" y="13" width="1" height="1" fill="#cfe0ff"/><rect x="372" y="12" width="8" height="8" fill="url(#gq)"/><rect x="373.5" y="15.5" width="5" height="3.5" fill="#ffffff" shape-rendering="geometricPrecision"/><rect x="374.5" y="16.5" width="3" height="1" fill="url(#gq)" opacity="0.45" shape-rendering="geometricPrecision"/><rect x="373" y="13" width="1" height="1" fill="#cfe0ff"/>
<rect x="402" y="6" width="1" height="15" fill="#4d4d4d"/><rect x="400" y="17" width="14" height="1" fill="#4d4d4d"/><rect x="401" y="7" width="3" height="1" fill="#4d4d4d"/><rect x="400" y="8" width="5" height="1" fill="#4d4d4d" opacity="0.35"/><rect x="412" y="16" width="1" height="3" fill="#4d4d4d"/><rect x="411" y="15" width="1" height="5" fill="#4d4d4d" opacity="0.35"/>
<path d="M407.5,8.2 L407.5,14.8 L411,11.5 Z" fill="#70e070" stroke="#0a8a0a" stroke-width="1" shape-rendering="geometricPrecision"/>
<rect x="430" y="6" width="1" height="15" fill="#4d4d4d"/><rect x="428" y="17" width="14" height="1" fill="#4d4d4d"/><rect x="429" y="7" width="3" height="1" fill="#4d4d4d"/><rect x="428" y="8" width="5" height="1" fill="#4d4d4d" opacity="0.35"/><rect x="440" y="16" width="1" height="3" fill="#4d4d4d"/><rect x="439" y="15" width="1" height="5" fill="#4d4d4d" opacity="0.35"/>
<rect x="436" y="6" width="1" height="10" fill="#2070b0"/>
<path d="M437.5,11.5 L440.3,9 L440,11 L442.2,11 L442.2,12 L440,12 L440.3,14 Z" fill="#e04808" shape-rendering="geometricPrecision"/>
<path d="M462.5,4.5 L469.5,4.5 L472.5,7.5 L472.5,17.5 L462.5,17.5 Z" fill="#ffffff" stroke="#a8a8a8" stroke-width="1" shape-rendering="geometricPrecision"/><path d="M469.5,4.5 L469.5,7.5 L472.5,7.5" fill="#e8e8e8" stroke="#a8a8a8" stroke-width="0.8" shape-rendering="geometricPrecision"/>
<path d="M466.5,8 C465,8 464.8,9 464.8,10.5 L464.8,15.5 M463.8,11.5 L466.5,11.5" stroke="#5a4a3a" stroke-width="1" fill="none" shape-rendering="geometricPrecision"/>
<path d="M469.6,10.8 L472.6,10.8 L472.6,14.6 L476.4,14.6 L476.4,17.6 L472.6,17.6 L472.6,21.4 L469.6,21.4 L469.6,17.6 L465.8,17.6 L465.8,14.6 L469.6,14.6 Z" fill="url(#gplus)" stroke="#0a8a0a" stroke-width="1" shape-rendering="geometricPrecision"/>
<path d="M482.5,11 L488.5,11 L485.5,14 Z" fill="#000" shape-rendering="geometricPrecision"/>
<path d="M521.5,11 L527.5,11 L524.5,14 Z" fill="#000" shape-rendering="geometricPrecision"/>
<path d="M560.5,11 L566.5,11 L563.5,14 Z" fill="#000" shape-rendering="geometricPrecision"/>
<path d="M866.5,11 L872.5,11 L869.5,14 Z" fill="#000" shape-rendering="geometricPrecision"/>
<circle cx="507" cy="11.8" r="6.9" fill="#ffffff" stroke="url(#clk)" stroke-width="2.6" shape-rendering="geometricPrecision"/><circle cx="507" cy="11.8" r="5.4" fill="#f4f8ff" stroke="#9ab8e8" stroke-width="0.5" shape-rendering="geometricPrecision"/>
<path d="M506.5,8 L506.5,12.2 L510,13" fill="none" stroke="#303030" stroke-width="1.1" shape-rendering="geometricPrecision"/><path d="M505.5,15 L508.5,15" stroke="#60a0f0" stroke-width="0.8" shape-rendering="geometricPrecision"/>
<rect x="538.5" y="5.5" width="15" height="13" fill="#ffffff" stroke="#3a76c4" stroke-width="1" shape-rendering="geometricPrecision"/><rect x="539" y="6" width="14" height="2" fill="#5a9ae4"/><rect x="539" y="13" width="14" height="1" fill="#3a76c4"/>
<path d="M540.5,11 L542.5,11 L544.5,9.5 L546.5,10.5 L548.5,10.5 L550.5,9.3 L552,9.3" fill="none" stroke="#a82808" stroke-width="1.2" shape-rendering="geometricPrecision"/>
<path d="M541,16.5 L543,15.8 L545,16.5 L547,15.5 L548.5,14.5 L550.5,16 L552,16.8" fill="none" stroke="#0a8a2a" stroke-width="1.2" shape-rendering="geometricPrecision"/>
<path d="M590,4.8 L590,16 L592.4,13.8 L594.8,18.8 L597,17.8 L594.6,13 L598.2,12.8 Z" fill="#4d4d4d" shape-rendering="geometricPrecision"/>
<rect x="622" y="5" width="1" height="7" fill="#4d4d4d"/><rect x="622" y="13" width="1" height="7" fill="#4d4d4d"/><rect x="615" y="12" width="7" height="1" fill="#4d4d4d"/><rect x="623" y="12" width="7" height="1" fill="#4d4d4d"/>
<rect x="656" y="6" width="1" height="13" fill="#4d4d4d"/>
<rect x="679" y="12" width="12" height="1" fill="#4d4d4d"/>
<path d="M707,18.7 L719,6.7" stroke="#4d4d4d" stroke-width="1.1" shape-rendering="geometricPrecision"/>
<g stroke="#4d4d4d" stroke-width="1.05" fill="none" shape-rendering="geometricPrecision"><path d="M732.8,13.8 L741,5.8"/><path d="M734,18.2 L746.8,10"/><path d="M733.5,16 L744,7.5"/><path d="M735.5,17.5 L736.5,11.5 M738,15.8 L739,9.5 M741,13.8 L742,7.5 M743.8,11.5 L744.5,4.5"/></g>
<rect x="762" y="5" width="1" height="1" fill="#4d4d4d"/>
<rect x="764" y="5" width="1" height="1" fill="#4d4d4d"/>
<rect x="766" y="5" width="1" height="1" fill="#4d4d4d"/>
<rect x="768" y="5" width="1" height="1" fill="#4d4d4d"/>
<rect x="770" y="5" width="1" height="1" fill="#4d4d4d"/>
<rect x="772" y="5" width="1" height="1" fill="#4d4d4d"/>
<rect x="774" y="5" width="1" height="1" fill="#4d4d4d"/>
<rect x="762" y="8" width="1" height="1" fill="#4d4d4d"/>
<rect x="764" y="8" width="1" height="1" fill="#4d4d4d"/>
<rect x="766" y="8" width="1" height="1" fill="#4d4d4d"/>
<rect x="768" y="8" width="1" height="1" fill="#4d4d4d"/>
<rect x="770" y="8" width="1" height="1" fill="#4d4d4d"/>
<rect x="772" y="8" width="1" height="1" fill="#4d4d4d"/>
<rect x="774" y="8" width="1" height="1" fill="#4d4d4d"/>
<rect x="762" y="12" width="1" height="1" fill="#4d4d4d"/>
<rect x="764" y="12" width="1" height="1" fill="#4d4d4d"/>
<rect x="766" y="12" width="1" height="1" fill="#4d4d4d"/>
<rect x="768" y="12" width="1" height="1" fill="#4d4d4d"/>
<rect x="770" y="12" width="1" height="1" fill="#4d4d4d"/>
<rect x="772" y="12" width="1" height="1" fill="#4d4d4d"/>
<rect x="774" y="12" width="1" height="1" fill="#4d4d4d"/>
<rect x="762" y="16" width="1" height="1" fill="#4d4d4d"/>
<rect x="764" y="16" width="1" height="1" fill="#4d4d4d"/>
<rect x="766" y="16" width="1" height="1" fill="#4d4d4d"/>
<rect x="768" y="16" width="1" height="1" fill="#4d4d4d"/>
<rect x="770" y="16" width="1" height="1" fill="#4d4d4d"/>
<rect x="820" y="5" width="1" height="1" fill="#4d4d4d"/>
<rect x="820" y="18" width="1" height="1" fill="#4d4d4d"/>
<rect x="822" y="5" width="1" height="1" fill="#4d4d4d"/>
<rect x="822" y="18" width="1" height="1" fill="#4d4d4d"/>
<rect x="824" y="5" width="1" height="1" fill="#4d4d4d"/>
<rect x="824" y="18" width="1" height="1" fill="#4d4d4d"/>
<rect x="826" y="5" width="1" height="1" fill="#4d4d4d"/>
<rect x="826" y="18" width="1" height="1" fill="#4d4d4d"/>
<rect x="828" y="5" width="1" height="1" fill="#4d4d4d"/>
<rect x="828" y="18" width="1" height="1" fill="#4d4d4d"/>
<rect x="830" y="5" width="1" height="1" fill="#4d4d4d"/>
<rect x="830" y="18" width="1" height="1" fill="#4d4d4d"/>
<rect x="819" y="6" width="1" height="1" fill="#4d4d4d"/>
<rect x="830" y="6" width="1" height="1" fill="#4d4d4d"/>
<rect x="819" y="8" width="1" height="1" fill="#4d4d4d"/>
<rect x="830" y="8" width="1" height="1" fill="#4d4d4d"/>
<rect x="819" y="10" width="1" height="1" fill="#4d4d4d"/>
<rect x="830" y="10" width="1" height="1" fill="#4d4d4d"/>
<rect x="819" y="12" width="1" height="1" fill="#4d4d4d"/>
<rect x="830" y="12" width="1" height="1" fill="#4d4d4d"/>
<rect x="819" y="14" width="1" height="1" fill="#4d4d4d"/>
<rect x="830" y="14" width="1" height="1" fill="#4d4d4d"/>
<rect x="819" y="16" width="1" height="1" fill="#4d4d4d"/>
<rect x="830" y="16" width="1" height="1" fill="#4d4d4d"/>
<rect x="819" y="18" width="1" height="1" fill="#4d4d4d"/>
<rect x="830" y="18" width="1" height="1" fill="#4d4d4d"/>
<rect x="819" y="5" width="2" height="1" fill="#4d4d4d"/>
<rect x="821" y="9" width="8" height="2" fill="#4d4d4d"/><rect x="824" y="9" width="2" height="8" fill="#4d4d4d"/>
<path d="M849.8,6 L853,9 L849.8,10.8 L846.5,9 Z" fill="#4d4d4d" shape-rendering="geometricPrecision"/><path d="M856.8,19 L860,15.8 L856.8,14 L853.5,15.8 Z" fill="#4d4d4d" shape-rendering="geometricPrecision"/><path d="M848.5,13.2 L850.5,15 L855,9.8" fill="none" stroke="#4d4d4d" stroke-width="1.2" shape-rendering="geometricPrecision"/>
<path d="M1606.4,12.8 L1602.2,16.8" stroke="#2058d0" stroke-width="2.6" stroke-linecap="round" shape-rendering="geometricPrecision"/><circle cx="1609.4" cy="9.4" r="3.7" fill="#fcfcff" stroke="#2058d0" stroke-width="1.3" shape-rendering="geometricPrecision"/>
<path d="M1629.2,20.6 L1630,17.6 C1627.4,16.8 1626,15.4 1626,13.6 C1626,11 1628.6,9 1631.8,9 C1635,9 1637.6,11 1637.6,13.6 C1637.6,16.2 1635,18 1631.8,18 L1631.4,18 Z" fill="#e2e2ea" stroke="#a8a8a8" stroke-width="1" shape-rendering="geometricPrecision"/>
<circle cx="1640.5" cy="9.6" r="8.2" fill="url(#redb)" shape-rendering="geometricPrecision"/>
<path d="M50.6,5.2 L60.2,11.4 L60.8,14.2 L52.8,19.8 L45.2,14 L49,10.2 Z" fill="url(#gold)" stroke="#9a5c0c" stroke-width="1.1" stroke-linejoin="round" shape-rendering="geometricPrecision"/><path d="M47.2,12.6 L54,17.6 L60.4,12.2" fill="none" stroke="#c08a18" stroke-width="0.8" shape-rendering="geometricPrecision"/><path d="M46.2,14.2 L52.8,18.6 L60,13.6" fill="none" stroke="#fbe9a0" stroke-width="0.7" shape-rendering="geometricPrecision"/>
<path d="M75.2,4.4 L82,4.2 L85.8,6 L85.8,13 L75.2,13 Z" fill="url(#bluebox)" shape-rendering="geometricPrecision"/><path d="M75.6,4.8 L78.6,7 L78.6,13" fill="none" stroke="#d8f0ff" stroke-width="0.7" shape-rendering="geometricPrecision"/><path d="M80,9.4 L84.5,8.6" stroke="#e8f6ff" stroke-width="1" shape-rendering="geometricPrecision"/>
<path d="M76.6,19.6 C72.6,19.8 72.4,15.2 75.8,14.8 C75.6,12.6 78.6,12 79.6,13.6 C80.6,11.6 84.2,11.8 84.6,14 C86.4,12.8 88.6,14.2 88,16 C90,16.8 89.4,19.6 87,19.6 Z" fill="url(#cloud)" stroke="#3f5ea4" stroke-width="1" shape-rendering="geometricPrecision"/>
<path d="M109,12 L109,20 A8,8 0 0 0 111.5,4.4 Z" fill="url(#sigf)" opacity="0.85" shape-rendering="geometricPrecision"/>
<g shape-rendering="geometricPrecision" fill="none" stroke="url(#sig)"><circle cx="109" cy="12" r="7.5" stroke-width="1.2" opacity="0.6"/><circle cx="109" cy="12" r="4.6" stroke-width="1.2" opacity="0.6"/></g>
<circle cx="108.8" cy="11.6" r="1.7" fill="#2a5ad0" shape-rendering="geometricPrecision"/><path d="M109.6,12.2 L109.6,19.8" stroke="#18a018" stroke-width="1.3" shape-rendering="geometricPrecision"/>
<path d="M128.6,11.6 L143.6,10.6 L137.2,19.6 L135,19.6 Z" fill="url(#yel)" stroke="#d8a010" stroke-width="0.8" shape-rendering="geometricPrecision"/>
<path d="M128.2,9.6 C128.6,7.8 131.4,7.6 132.6,8 C132.8,5.4 134.2,4 136.4,4 C138.6,4 139.8,5.2 140.2,7.6 C141.6,7 144.2,7 144.2,8.4 C143.6,10.6 139.6,11.6 136,11.6 C132.4,11.6 128.4,11.2 128.2,9.6 Z" fill="url(#hat)" stroke="#2a86b8" stroke-width="0.8" shape-rendering="geometricPrecision"/><path d="M132.8,8.2 C134.6,9.4 138.4,9.2 140.2,7.8" fill="none" stroke="#2a86b8" stroke-width="0.7" opacity="0.8" shape-rendering="geometricPrecision"/>
<circle cx="140.5" cy="15.8" r="4" fill="#e02808" shape-rendering="geometricPrecision"/><rect x="139" y="14.4" width="3" height="3" fill="#ffffff" shape-rendering="geometricPrecision"/>
</svg>
<div class="t" style="left:20px;top:32px;">USO<span style="letter-spacing:0.35px">il</span>-,H4</div>
<div class="t" style="left:68.3px;top:32px;letter-spacing:-0.43px">69.735 69.767 69.427 69.503</div>
<div class="t" style="left:8.5px;top:638px;">MACD(12,26,9) -0.6213 -0.1592</div>
<div class="t" style="left:9px;top:728px;">RSI(14) 27.9084</div>
<div class="t" style="left:1618px;top:30px;">74.940</div>
<div class="t" style="left:1618px;top:63px;">74.610</div>
<div class="t" style="left:1618px;top:96px;">74.270</div>
<div class="t" style="left:1618px;top:129px;">73.930</div>
<div class="t" style="left:1618px;top:162px;">73.600</div>
<div class="t" style="left:1618px;top:195px;">73.260</div>
<div class="t" style="left:1618px;top:228px;">72.920</div>
<div class="t" style="left:1618px;top:261px;">72.580</div>
<div class="t" style="left:1618px;top:294px;">72.250</div>
<div class="t" style="left:1618px;top:327px;">71.910</div>
<div class="t" style="left:1618px;top:360px;">71.570</div>
<div class="t" style="left:1618px;top:393px;">71.240</div>
<div class="t" style="left:1618px;top:426px;">70.900</div>
<div class="t" style="left:1618px;top:459px;">70.560</div>
<div class="t" style="left:1618px;top:492px;">70.220</div>
<div class="t" style="left:1618px;top:525px;">69.890</div>
<div class="t" style="left:1618px;top:558px;height:4px;overflow:hidden">69.550</div>
<div class="t" style="left:1618px;top:591px;height:2px;overflow:hidden">69.210</div>
<div class="t" style="left:1618px;top:469px;color:#fff">70.451</div>
<div class="t" style="left:1618px;top:502px;color:#fff">70.115</div>
<div class="t" style="left:1618px;top:538px;color:#fff">69.748</div>
<div class="t" style="left:1618px;top:563px;color:#fff">69.503</div>
<div class="t" style="left:1618px;top:594px;color:#fff">69.176</div>
<div class="t" style="left:1618px;top:625px;color:#fff">68.860</div>
<div class="t" style="left:1616.5px;top:637px;">0.6862</div>
<div class="t" style="left:1616.5px;top:673px;">0.00</div>
<div class="t" style="left:1616.3px;top:710px;">-0.7043</div>
<div class="t" style="left:1615.3px;top:726px;">100</div>
<div class="t" style="left:1615.3px;top:737px;">80</div>
<div class="t" style="left:1615.3px;top:761px;">50</div>
<div class="t" style="left:1615.3px;top:790px;">15</div>
<div class="t" style="left:1615.5px;top:796px;">0</div>
<div class="t" style="left:4px;top:812px;">12 May 2023</div>
<div class="t" style="left:68px;top:812px;">14 May 23:00</div>
<div class="t" style="left:132px;top:812px;">15 May 12:00</div>
<div class="t" style="left:196px;top:812px;">16 May 04:00</div>
<div class="t" style="left:260px;top:812px;">16 May 20:00</div>
<div class="t" style="left:324px;top:812px;">17 May 12:00</div>
<div class="t" style="left:388px;top:812px;">18 May 04:00</div>
<div class="t" style="left:452px;top:812px;">18 May 22:00</div>
<div class="t" style="left:516px;top:812px;">19 May 12:00</div>
<div class="t" style="left:580px;top:812px;">22 May 00:00</div>
<div class="t" style="left:644px;top:812px;">22 May 16:00</div>
<div class="t" style="left:708px;top:812px;">23 May 08:00</div>
<div class="t" style="left:772px;top:812px;">24 May 00:00</div>
<div class="t" style="left:836px;top:812px;">24 May 16:00</div>
<div class="t" style="left:900px;top:812px;">25 May 08:00</div>
<div class="t" style="left:964px;top:812px;">26 May 00:00</div>
<div class="t" style="left:1028px;top:812px;">26 May 16:00</div>
<div class="t" style="left:1092px;top:812px;">29 May 04:00</div>
<div class="t" style="left:1156px;top:812px;">29 May 22:00</div>
<div class="t" style="left:1220px;top:812px;">30 May 12:00</div>
<div class="c" style="left:-4.5px;top:4.5px;-webkit-text-stroke:0.2px #000;transform:scaleX(1.04);transform-origin:0 0">新订单</div>
<div class="c" style="left:148.4px;top:4.5px;-webkit-text-stroke:0.2px #000;transform:scaleX(1.035);transform-origin:0 0">自动交易</div>
<div class="p" style="left:893.0px;top:7px">M1</div>
<div class="p" style="left:921.0px;top:7px">M5</div>
<div class="p" style="left:947.0px;top:7px">M15</div>
<div class="p" style="left:975.5px;top:7px">M30</div>
<div class="p" style="left:1006.0px;top:7px">H1</div>
<div class="p" style="left:1033.0px;top:7px">H4</div>
<div class="p" style="left:1062.0px;top:7px">D1</div>
<div class="p" style="left:1089.5px;top:7px">W1</div>
<div class="p" style="left:1116.0px;top:7px">MN</div>
<div class="i" style="left:793px;top:5.5px;font-size:12px;-webkit-text-stroke:0.45px #4d4d4d;">A</div>
<div class="i" style="left:744px;top:12px;font-size:7px;font-weight:bold">E</div>
<div class="i" style="left:772px;top:12px;font-size:7px;font-weight:bold">F</div>
<div class="b1" style="left:1637px;top:2px;">1</div>
</body></html>
